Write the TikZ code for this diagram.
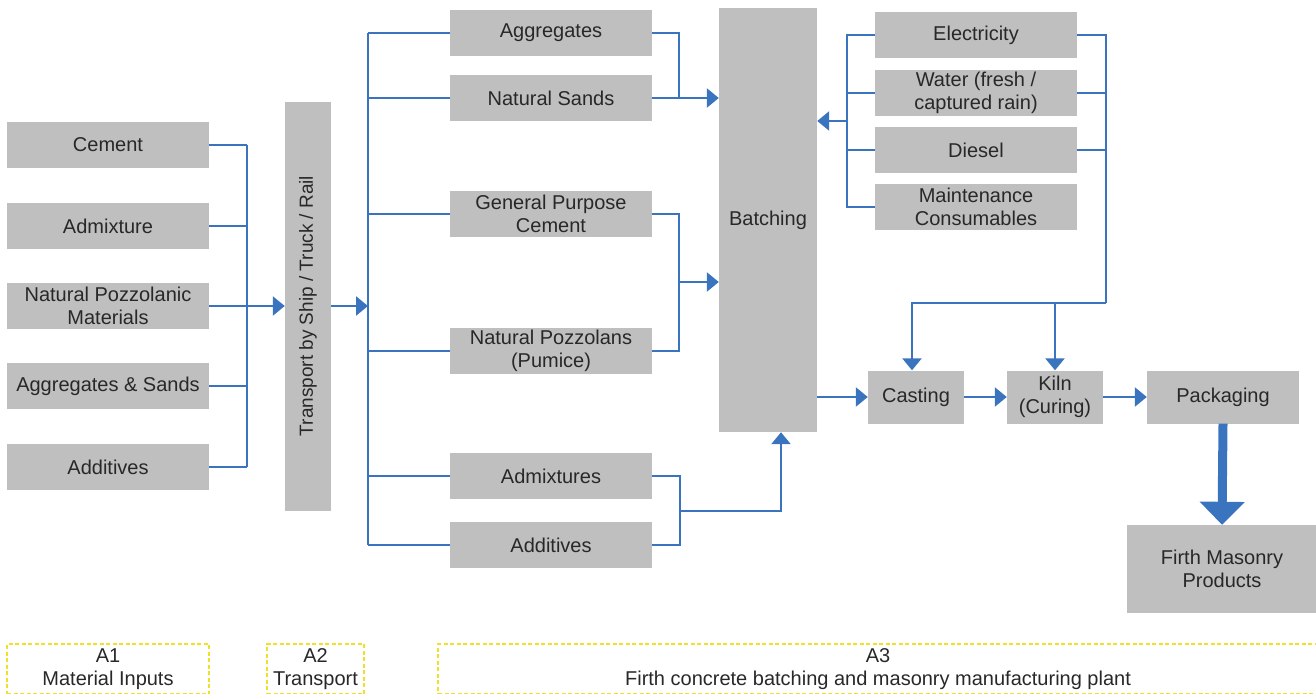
\documentclass[tikz,border=0pt]{standalone}
\usepackage{fontspec}
\setmainfont{Liberation Sans}
\usepackage{xcolor}
\usetikzlibrary{positioning,arrows.meta}

\definecolor{boxgray}{RGB}{191,191,191}
\definecolor{flowblue}{RGB}{58,116,190}
\definecolor{txtgray}{RGB}{40,40,40}
\definecolor{stageyellow}{RGB}{240,224,40}

\tikzset{
  blk/.style={fill=boxgray, text=txtgray, align=center, inner sep=0pt,
              minimum width=202, minimum height=46},
  link/.style={draw=flowblue, line width=2.4pt},
  arr/.style={link, -{Triangle[length=12pt,width=19pt]}},
  stage/.style={draw=stageyellow, line width=2.6pt, dash pattern=on 4pt off 2.5pt,
                text=txtgray, align=center, minimum height=50, inner sep=0pt}
}

\begin{document}
\begin{tikzpicture}[x=1pt,y=-1pt,font=\fontsize{20}{23}\selectfont]
\useasboundingbox (0,0) rectangle (1316,693);

% A1 material inputs
\node [blk] (cem) at (108,145) {Cement};
\node [blk] (adm) at (108,226) {Admixture};
\node [blk] (poz) at (108,306) {Natural Pozzolanic\\Materials};
\node [blk] (agg) at (108,386) {Aggregates \& Sands};
\node [blk] (add) at (108,467) {Additives};

% A2 transport
\node [blk, minimum width=46, minimum height=409] (trans) at (308,306)
      {\rotatebox{90}{\fontsize{19}{23}\selectfont Transport by Ship / Truck / Rail}};

% A3 plant inputs
\node [blk] (aggr) at (551,33) {Aggregates};
\node [blk] (sand) at (551,98) {Natural Sands};
\node [blk] (gpc) at (551,214) {General Purpose\\Cement};
\node [blk] (pum) at (551,351) {Natural Pozzolans\\(Pumice)};
\node [blk] (admx) at (551,476) {Admixtures};
\node [blk] (addt) at (551,545) {Additives};

\node [blk, minimum width=98, minimum height=424] (batch) at (768,220) {Batching};

\node [blk] (elec) at (976,35) {Electricity};
\node [blk] (water) at (976,93) {Water (fresh /\\captured rain)};
\node [blk] (dies) at (976,150) {Diesel};
\node [blk] (maint) at (976,207) {Maintenance\\Consumables};

\node [blk, minimum width=96, minimum height=53] (cast) at (916,397) {Casting};
\node [blk, minimum width=96, minimum height=53] (kiln) at (1055,397) {Kiln\\(Curing)};
\node [blk, minimum width=152, minimum height=53] (pack) at (1223,397) {Packaging};
\node [blk, minimum width=190, minimum height=88] (firth) at (1222,569) {Firth Masonry\\Products};

% junction points
\coordinate (busA) at (247,306);
\coordinate (busB) at (368,306);
\coordinate (j1) at (679,98);
\coordinate (j2) at (679,282);
\coordinate (j3) at (680,511);
\coordinate (busC) at (847,121);
\coordinate (busD) at (1106,303);

% inputs to transport
\foreach \n in {cem,adm,poz,agg,add}
  \draw [link] (\n.east) -- (\n.east -| busA);
\draw [link] (cem.east -| busA) -- (add.east -| busA);
\draw [arr] (busA) -- (trans.west |- busA);

% transport to plant inputs
\draw [arr] (trans.east |- busB) -- (busB);
\draw [link] (aggr.west -| busB) -- (addt.west -| busB);
\foreach \n in {aggr,sand,gpc,pum,admx,addt}
  \draw [link] (\n.west -| busB) -- (\n.west);

% plant inputs to batching
\draw [link] (aggr.east) -| (j1);
\draw [arr] (sand.east) -- (sand.east -| batch.west);
\draw [link] (gpc.east) -| (pum.east -| j2) -- (pum.east);
\draw [arr] (j2) -- (j2 -| batch.west);
\draw [link] (admx.east) -| (addt.east -| j3) -- (addt.east);
\draw [arr] (j3) -| ([xshift=13]batch.south);

% utilities
\draw [link] (elec.west) -- (elec.west -| busC) -- (maint.west -| busC) -- (maint.west);
\draw [link] (water.west) -- (water.west -| busC);
\draw [link] (dies.west) -- (dies.west -| busC);
\draw [arr] (busC) -- (busC -| batch.east);
\draw [link] (elec.east) -| (busD);
\draw [link] (water.east) -- (water.east -| busD);
\draw [link] (dies.east) -- (dies.east -| busD);
\draw [arr] (busD) -| ([xshift=-4]cast.north);
\draw [arr] (kiln.north |- busD) -- (kiln.north);

% production line
\draw [arr] (batch.east |- cast.west) -- (cast.west);
\draw [arr] (cast.east) -- (kiln.west);
\draw [arr] (kiln.east) -- (pack.west);
\draw [draw=flowblue, line width=9pt, -{Triangle[length=23pt,width=44pt]}] (pack.south) -- (firth.north);

% life cycle stages
\node [stage, minimum width=202] (a1) at (108,669) {A1\\Material Inputs};
\node [stage, minimum width=97] (a2) at (315.5,669) {A2\\Transport};
\node [stage, minimum width=880] (a3) at (878,669) {A3\\Firth concrete batching and masonry manufacturing plant};
\end{tikzpicture}
\end{document}
